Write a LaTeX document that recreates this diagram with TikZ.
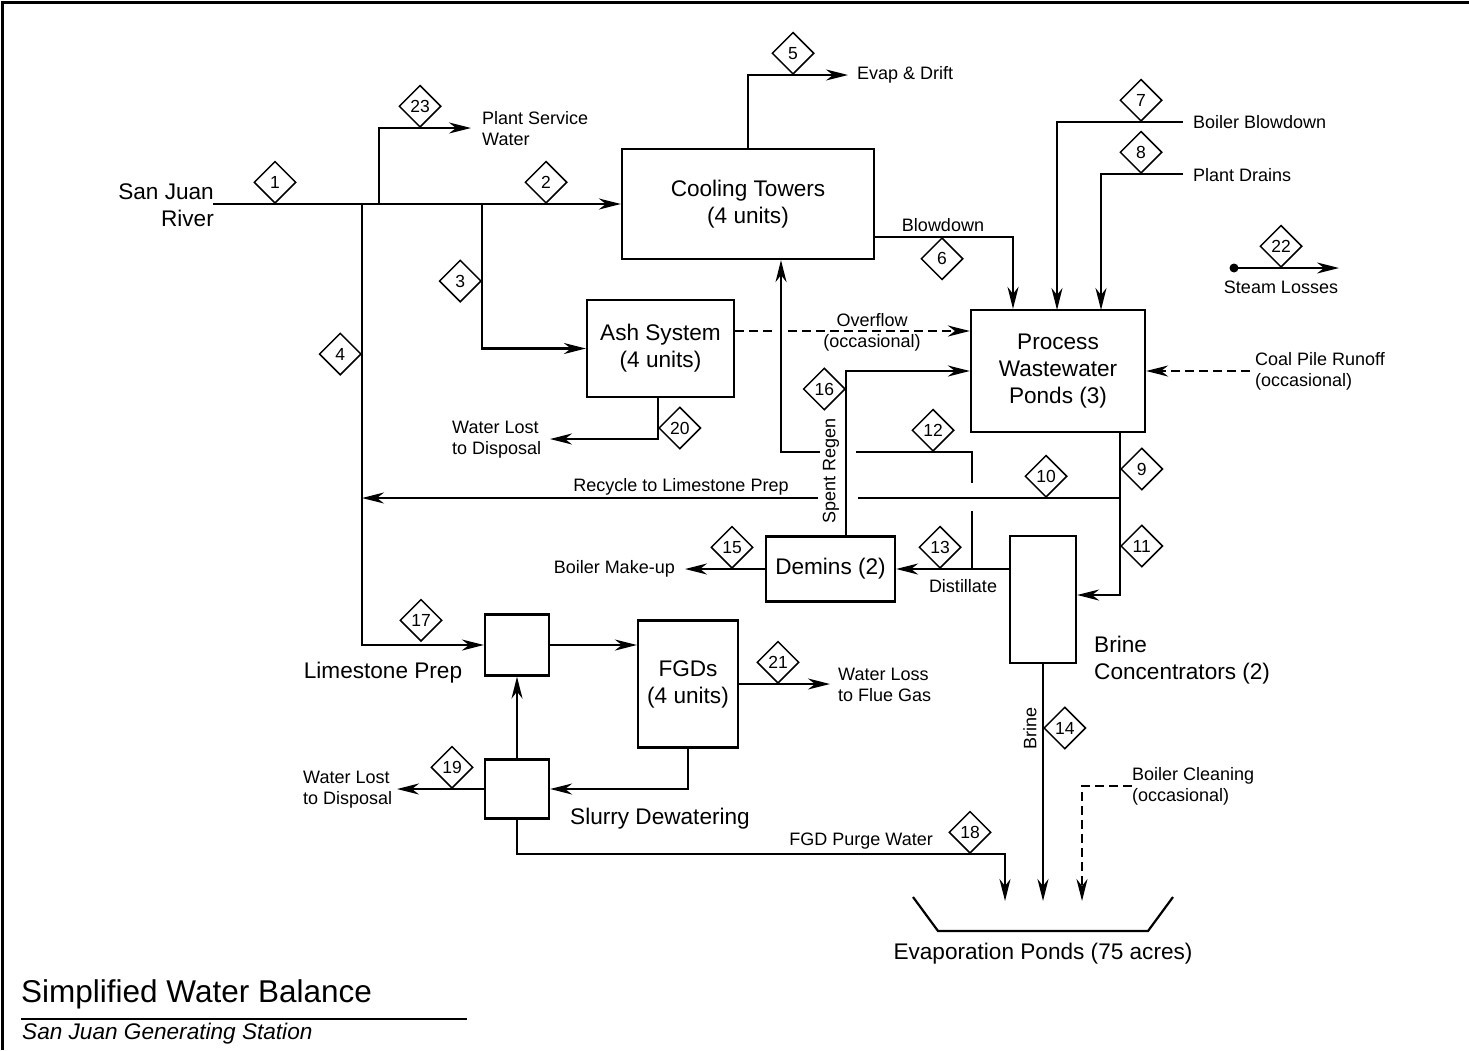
\documentclass[tikz,border=0pt]{standalone}
\usepackage{fontspec}
\setmainfont{Liberation Sans}
\usetikzlibrary{arrows.meta,shapes.geometric}

\begin{document}
\begin{tikzpicture}[x=1pt,y=-1pt,
  flow/.style={line width=2.2pt},
  arr/.style={flow,-{Stealth[length=22pt,width=11pt,inset=7pt]}},
  dsh/.style={dash pattern=on 9pt off 5pt},
  box/.style={draw,line width=2.2pt,inner sep=0pt,align=center,font=\fontsize{22.6}{27}\selectfont},
  lbl/.style={inner sep=0pt,align=center,font=\fontsize{22.6}{27}\selectfont},
  sm/.style={inner sep=0pt,font=\fontsize{18}{21}\selectfont},
  num/.style={draw,shape=diamond,line width=1.5pt,minimum width=42pt,minimum height=42pt,
    inner sep=0pt,font=\fontsize{17.5}{17.5}\selectfont},
]
\useasboundingbox (0,0) rectangle (1469,1050);

% frame
\draw[line width=3pt] (2,1050) -- (2,2) -- (1469,2);

% process units
\node[box,minimum width=252pt,minimum height=110pt] (ct) at (748,204) {Cooling Towers\\(4 units)};
\node[box,minimum width=147pt,minimum height=97pt] (ash) at (660.5,348.5) {Ash System\\(4 units)};
\node[box,minimum width=174pt,minimum height=122pt] (pwp) at (1058,371) {Process\\Wastewater\\Ponds (3)};
\node[box,minimum width=129pt,minimum height=65pt] (dem) at (830.5,569) {Demins (2)};
\node[box,minimum width=66pt,minimum height=127pt] (bc) at (1043,599.5) {};
\node[box,minimum width=64pt,minimum height=61pt] (lp) at (517,645) {};
\node[box,minimum width=100pt,minimum height=127pt] (fgd) at (688,684) {FGDs\\(4 units)};
\node[box,minimum width=64pt,minimum height=59pt] (sd) at (517,789) {};

% evaporation ponds
\draw[line width=2.2pt] (913,897) -- (938,931) -- (1148,931) -- (1173,897);

% unit and stream labels
\node[lbl,anchor=east,align=right] (river) at (214,205) {San Juan\\River};
\node[lbl] (lpl) at (383,673) {Limestone Prep};
\node[lbl] (sdl) at (660,819) {Slurry Dewatering};
\node[lbl,anchor=west,align=left] (bcl) at (1094,660) {Brine\\Concentrators (2)};
\node[lbl] (evl) at (1043,954) {Evaporation Ponds (75 acres)};

\node[sm,anchor=west] (evap) at (857,75) {Evap \& Drift};
\node[sm,anchor=west,align=left] (psw) at (482,129) {Plant Service\\Water};
\node[sm] (bdl) at (943,225) {Blowdown};
\node[sm,anchor=west] (bbd) at (1193,122) {Boiler Blowdown};
\node[sm,anchor=west] (pdr) at (1193,175) {Plant Drains};
\node[sm] (stl) at (1281,287) {Steam Losses};
\node[sm,align=center] (ovf) at (872,332) {Overflow\\(occasional)};
\node[sm,anchor=west,align=left] (cpr) at (1255,371) {Coal Pile Runoff\\(occasional)};
\node[sm,anchor=west,align=left] (wl1) at (452,440) {Water Lost\\to Disposal};
\node[sm] (rcy) at (681,487) {Recycle to Limestone Prep};
\node[sm,rotate=90] (spr) at (831,471) {Spent Regen};
\node[sm,anchor=east] (bmu) at (675,569) {Boiler Make-up};
\node[sm] (dst) at (963,586) {Distillate};
\node[sm,anchor=west,align=left] (wlf) at (838,685) {Water Loss\\to Flue Gas};
\node[sm,anchor=west,align=left] (wl2) at (303,790) {Water Lost\\to Disposal};
\node[sm,anchor=east] (fpw) at (933,841) {FGD Purge Water};
\node[sm,rotate=90] (brl) at (1030,728) {Brine};
\node[sm,anchor=west,align=left] (bcn) at (1132,786) {Boiler Cleaning\\(occasional)};

% title block
\node[anchor=base west,inner sep=0pt,font=\fontsize{31.5}{31.5}\selectfont] (ttl) at (21,1002) {Simplified Water Balance};
\draw[line width=2pt] (21,1019) -- (467,1019);
\node[anchor=base west,inner sep=0pt,font=\fontsize{22.6}{22.6}\selectfont\itshape] (sub) at (22,1039) {San Juan Generating Station};

% junctions and free ends
\coordinate (src) at (213,204);
\coordinate (t4) at (362,204);
\coordinate (t23) at (379,204);
\coordinate (t3) at (482,204);
\coordinate (psw-end) at (471,128);
\coordinate (evap-end) at (848,75);
\coordinate (bd-in) at (1013,237);
\coordinate (bb-src) at (1183,122);
\coordinate (bb-in) at (1057,310);
\coordinate (pd-src) at (1183,174);
\coordinate (pd-in) at (1101,310);
\coordinate (st-a) at (1234,268);
\coordinate (st-b) at (1339,268);
\coordinate (cp-src) at (1250,371);
\coordinate (ov-a) at (772,331);
\coordinate (ov-b) at (788,331);
\coordinate (srx) at (846,0);
\coordinate (c12) at (972,569);
\coordinate (c12b) at (972,511);
\coordinate (c12a) at (972,483);
\coordinate (c12t) at (972,452);
\coordinate (g12r) at (856,452);
\coordinate (g12l) at (820,452);
\coordinate (c12l) at (781,452);
\coordinate (x9) at (1120,0);
\coordinate (j10) at (1120,498);
\coordinate (j11) at (1120,595);
\coordinate (g10r) at (858,498);
\coordinate (g10l) at (818,498);
\coordinate (bmu-end) at (685,569);
\coordinate (ax) at (658,0);
\coordinate (wl1-end) at (550,439);
\coordinate (wl2-end) at (397,789);
\coordinate (fl-end) at (830,684);
\coordinate (p18) at (1005,854);
\coordinate (e18) at (1005,901);
\coordinate (e14) at (1043,901);
\coordinate (bcl-src) at (1132,786);
\coordinate (e-bcl) at (1082,901);

% river supply and its branches
\draw[arr] (src) -- (src -| ct.west);
\draw[arr] (t23) |- (psw-end);
\draw[arr] (t3) |- (ash.west);
\draw[arr] (t4) |- (lp.west);

% cooling towers
\draw[arr] (ct.north) |- (evap-end);
\draw[arr] (ct.east |- bd-in) -| (bd-in |- pwp.north);

% inflows to process wastewater ponds
\draw[arr] (bb-src) -| (bb-in);
\draw[arr] (pd-src) -| (pd-in);
\draw[arr,dsh] (cp-src) -- (pwp.east);
\draw[flow,dsh] (ash.east |- ov-a) -- (ov-a);
\draw[arr,dsh] (ov-b) -- (ov-b -| pwp.west);
\draw[arr] (dem.north -| srx) |- (pwp.west);

% steam losses
\fill (st-a) circle (4.5pt);
\draw[arr] (st-a) -- (st-b);

% distillate and return to cooling towers
\draw[arr] (bc.west |- c12) -- (dem.east |- c12);
\draw[flow] (c12) -- (c12b);
\draw[flow] (c12a) -- (c12t) -- (g12r);
\draw[arr] (g12l) -- (c12l) -- (c12l |- ct.south);

% pond discharge, recycle and brine concentrator feed
\draw[flow] (pwp.south -| x9) -- (j10);
\draw[arr] (j10) -- (j11) -- (j11 -| bc.east);
\draw[flow] (j10) -- (g10r);
\draw[arr] (g10l) -- (g10l -| t4);

% demineralisers and ash system
\draw[arr] (dem.west) -- (bmu-end);
\draw[arr] (ash.south -| ax) |- (wl1-end);

% limestone prep, FGDs and slurry dewatering
\draw[arr] (lp.east) -- (lp.east -| fgd.west);
\draw[arr] (sd.north) -- (lp.south);
\draw[arr] (fgd.south) |- (sd.east);
\draw[arr] (sd.west) -- (wl2-end);
\draw[arr] (fgd.east) -- (fl-end);

% flows to evaporation ponds
\draw[arr] (sd.south) |- (p18) -- (e18);
\draw[arr] (bc.south) -- (e14);
\draw[arr,dsh] (bcl-src) -| (e-bcl);

% stream numbers
\node[num,anchor=south] (n1) at (275,204) {1};
\node[num,anchor=south] (n2) at (546,204) {2};
\node[num,anchor=east] (n3) at (482,281) {3};
\node[num,anchor=east] (n4) at (362,354) {4};
\node[num,anchor=south] (n5) at (793,75) {5};
\node[num,anchor=north] (n6) at (942,237) {6};
\node[num,anchor=south] (n7) at (1141,122) {7};
\node[num,anchor=south] (n8) at (1141,174) {8};
\node[num,anchor=west] (n9) at (1120,469) {9};
\node[num,anchor=south] (n10) at (1046,498) {10};
\node[num,anchor=west] (n11) at (1120,546) {11};
\node[num,anchor=south] (n12) at (933,452) {12};
\node[num,anchor=south] (n13) at (940,569) {13};
\node[num,anchor=west] (n14) at (1043,728) {14};
\node[num,anchor=south] (n15) at (732,569) {15};
\node[num,anchor=east] (n16) at (846,389) {16};
\node[num,anchor=south] (n17) at (421,642) {17};
\node[num,anchor=south] (n18) at (970,854) {18};
\node[num,anchor=south] (n19) at (452,789) {19};
\node[num,anchor=west] (n20) at (658,428) {20};
\node[num,anchor=south] (n21) at (778,684) {21};
\node[num,anchor=south] (n22) at (1281,268) {22};
\node[num,anchor=south] (n23) at (420,128) {23};
\end{tikzpicture}
\end{document}
